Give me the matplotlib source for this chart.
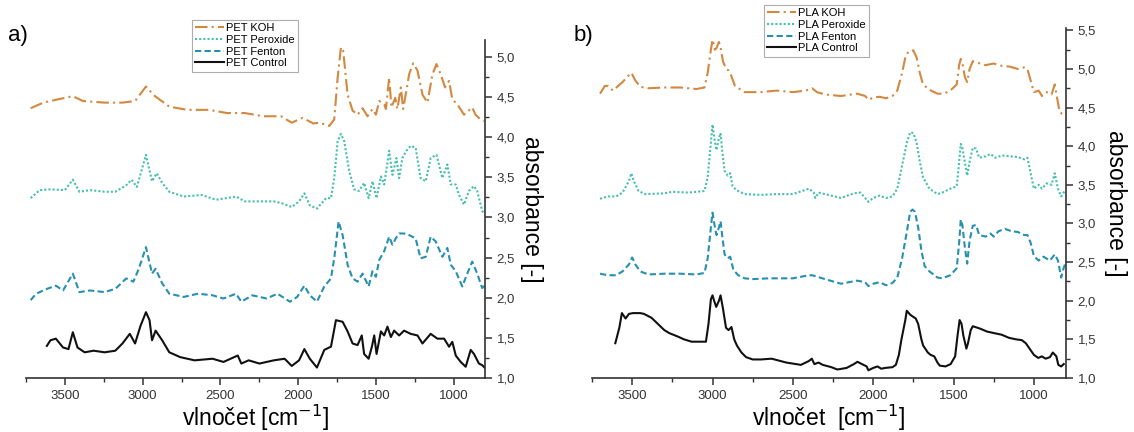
import matplotlib.pyplot as plt
from matplotlib.ticker import FuncFormatter, MultipleLocator

# PET (panel a)
pet_control_wn = [3616, 3593, 3558, 3512, 3477, 3449, 3419, 3373, 3315, 3245, 3176, 3130, 3083, 3049,
                  3014, 2979, 2956, 2940, 2917, 2875, 2829, 2759, 2667, 2551, 2481, 2389, 2366, 2319,
                  2250, 2157, 2088, 2042, 1995, 1961, 1926, 1880, 1833, 1790, 1758, 1715, 1683, 1651,
                  1619, 1592, 1577, 1548, 1527, 1512, 1497, 1469, 1448, 1427, 1405, 1384, 1352, 1320,
                  1278, 1234, 1202, 1149, 1106, 1063, 1031, 1010, 988, 956, 924, 892, 871, 839, 818, 803]
pet_control_abs = [1.40, 1.47, 1.49, 1.38, 1.36, 1.57, 1.38, 1.32, 1.34, 1.32, 1.34, 1.43, 1.55, 1.43,
                   1.65, 1.82, 1.72, 1.47, 1.59, 1.47, 1.32, 1.26, 1.22, 1.24, 1.20, 1.28, 1.18, 1.22,
                   1.18, 1.22, 1.24, 1.15, 1.22, 1.36, 1.24, 1.13, 1.35, 1.39, 1.72, 1.70, 1.58, 1.43,
                   1.41, 1.53, 1.30, 1.24, 1.39, 1.53, 1.30, 1.58, 1.53, 1.64, 1.51, 1.59, 1.53, 1.59,
                   1.55, 1.53, 1.43, 1.55, 1.49, 1.49, 1.39, 1.45, 1.28, 1.20, 1.14, 1.35, 1.30, 1.18, 1.16, 1.13]

pet_fenton_wn = [3720, 3685, 3616, 3558, 3512, 3449, 3407, 3338, 3245, 3176, 3106, 3060, 3025, 2979,
                 2940, 2917, 2875, 2829, 2736, 2644, 2551, 2481, 2400, 2366, 2296, 2204, 2134, 2053,
                 2007, 1961, 1926, 1880, 1833, 1790, 1769, 1741, 1715, 1683, 1651, 1619, 1587, 1548,
                 1523, 1501, 1480, 1448, 1416, 1395, 1373, 1352, 1320, 1288, 1246, 1214, 1181, 1149,
                 1117, 1074, 1042, 1020, 988, 946, 914, 882, 850, 818, 805]
pet_fenton_abs = [1.97, 2.05, 2.11, 2.15, 2.09, 2.30, 2.07, 2.09, 2.07, 2.11, 2.24, 2.20, 2.36, 2.63,
                  2.30, 2.36, 2.18, 2.05, 2.01, 2.05, 2.03, 1.99, 2.05, 1.95, 2.03, 1.99, 2.05, 1.95,
                  2.01, 2.15, 2.03, 1.95, 2.14, 2.24, 2.49, 2.95, 2.78, 2.41, 2.24, 2.20, 2.30, 2.14,
                  2.33, 2.26, 2.47, 2.58, 2.76, 2.66, 2.74, 2.80, 2.80, 2.78, 2.74, 2.49, 2.51, 2.76,
                  2.70, 2.51, 2.62, 2.41, 2.33, 2.14, 2.30, 2.45, 2.30, 2.12, 2.15]

pet_peroxide_wn = [3720, 3662, 3593, 3500, 3449, 3407, 3338, 3245, 3176, 3106, 3072, 3037, 2979, 2940,
                   2910, 2875, 2829, 2736, 2621, 2528, 2400, 2343, 2250, 2157, 2111, 2042, 1995, 1961,
                   1926, 1880, 1822, 1790, 1769, 1747, 1726, 1705, 1673, 1641, 1609, 1577, 1548, 1523,
                   1497, 1469, 1448, 1416, 1395, 1369, 1352, 1331, 1305, 1278, 1246, 1214, 1181, 1149,
                   1112, 1074, 1042, 1020, 988, 967, 935, 903, 871, 850, 818, 805]
pet_peroxide_abs = [3.24, 3.34, 3.35, 3.34, 3.47, 3.32, 3.34, 3.32, 3.32, 3.40, 3.47, 3.38, 3.78, 3.45,
                    3.55, 3.43, 3.32, 3.26, 3.28, 3.22, 3.26, 3.20, 3.20, 3.20, 3.18, 3.13, 3.20, 3.30,
                    3.15, 3.11, 3.24, 3.24, 3.49, 3.95, 4.04, 3.95, 3.58, 3.35, 3.33, 3.43, 3.24, 3.45,
                    3.24, 3.51, 3.41, 3.83, 3.53, 3.74, 3.49, 3.74, 3.83, 3.89, 3.87, 3.49, 3.45, 3.74,
                    3.78, 3.49, 3.66, 3.41, 3.41, 3.28, 3.16, 3.33, 3.39, 3.33, 3.08, 3.05]

pet_koh_wn = [3720, 3639, 3546, 3449, 3384, 3245, 3130, 3049, 2979, 2921, 2829, 2713, 2574, 2458,
              2343, 2227, 2111, 2042, 1972, 1903, 1865, 1801, 1769, 1747, 1726, 1711, 1683, 1651,
              1619, 1587, 1555, 1523, 1501, 1480, 1448, 1437, 1416, 1401, 1377, 1363, 1341, 1326,
              1305, 1288, 1262, 1234, 1202, 1170, 1138, 1112, 1084, 1057, 1031, 1010, 978, 935,
              882, 861, 829, 808]
pet_koh_abs = [4.36, 4.43, 4.47, 4.51, 4.45, 4.43, 4.43, 4.45, 4.63, 4.51, 4.38, 4.34, 4.34, 4.30,
               4.30, 4.26, 4.26, 4.18, 4.24, 4.17, 4.18, 4.14, 4.22, 4.74, 5.12, 5.07, 4.53, 4.33,
               4.28, 4.36, 4.26, 4.35, 4.28, 4.45, 4.41, 4.35, 4.74, 4.37, 4.49, 4.35, 4.62, 4.35,
               4.58, 4.78, 4.92, 4.83, 4.53, 4.43, 4.78, 4.91, 4.78, 4.62, 4.70, 4.47, 4.41, 4.28,
               4.37, 4.28, 4.22, 4.20]

# PLA (panel b)
pla_control_wn = [3605, 3580, 3564, 3541, 3520, 3495, 3450, 3427, 3380, 3340, 3300, 3268, 3220, 3177,
                  3130, 3086, 3041, 3025, 3010, 3000, 2990, 2977, 2960, 2950, 2935, 2916, 2900, 2882,
                  2865, 2848, 2820, 2791, 2750, 2700, 2632, 2541, 2450, 2400, 2382, 2366, 2340, 2314,
                  2260, 2223, 2166, 2120, 2098, 2070, 2041, 2030, 2000, 1973, 1950, 1927, 1880, 1859,
                  1840, 1825, 1800, 1791, 1770, 1757, 1735, 1720, 1700, 1689, 1660, 1643, 1620, 1600,
                  1586, 1550, 1518, 1490, 1475, 1462, 1450, 1439, 1420, 1410, 1393, 1380, 1336, 1290,
                  1245, 1200, 1155, 1110, 1075, 1050, 1030, 1000, 973, 950, 927, 900, 882, 860, 848,
                  830, 814]
pla_control_abs = [1.45, 1.65, 1.84, 1.77, 1.83, 1.84, 1.84, 1.83, 1.78, 1.70, 1.62, 1.58, 1.54, 1.50,
                   1.47, 1.47, 1.47, 1.70, 2.02, 2.07, 2.00, 1.92, 2.00, 2.07, 1.90, 1.65, 1.62, 1.66,
                   1.50, 1.42, 1.33, 1.27, 1.24, 1.24, 1.25, 1.20, 1.17, 1.22, 1.25, 1.18, 1.20, 1.17,
                   1.14, 1.11, 1.13, 1.18, 1.21, 1.18, 1.15, 1.10, 1.13, 1.15, 1.12, 1.13, 1.14, 1.17,
                   1.30, 1.49, 1.75, 1.87, 1.82, 1.80, 1.77, 1.70, 1.50, 1.42, 1.33, 1.30, 1.28, 1.20,
                   1.16, 1.15, 1.18, 1.28, 1.55, 1.75, 1.70, 1.55, 1.38, 1.45, 1.62, 1.67, 1.64, 1.60,
                   1.58, 1.56, 1.52, 1.50, 1.49, 1.45, 1.39, 1.30, 1.26, 1.28, 1.25, 1.27, 1.33, 1.28,
                   1.17, 1.15, 1.18]

pla_fenton_wn = [3700, 3650, 3600, 3560, 3520, 3500, 3480, 3450, 3400, 3300, 3200, 3100, 3050, 3030,
                 3010, 3000, 2985, 2975, 2960, 2950, 2940, 2925, 2905, 2890, 2870, 2840, 2800, 2750,
                 2650, 2500, 2400, 2380, 2300, 2200, 2100, 2050, 2030, 2000, 1960, 1920, 1880, 1850,
                 1820, 1790, 1770, 1755, 1740, 1720, 1700, 1680, 1650, 1600, 1570, 1520, 1480, 1465,
                 1455, 1445, 1430, 1415, 1400, 1380, 1360, 1340, 1300, 1270, 1250, 1220, 1180, 1140,
                 1100, 1060, 1040, 1020, 1000, 970, 940, 900, 870, 850, 830, 815, 805]
pla_fenton_abs = [2.35, 2.33, 2.33, 2.38, 2.47, 2.56, 2.47, 2.38, 2.34, 2.35, 2.35, 2.34, 2.36, 2.55,
                  2.95, 3.14, 2.95, 2.85, 2.95, 3.03, 2.85, 2.60, 2.55, 2.57, 2.40, 2.33, 2.29, 2.28,
                  2.29, 2.29, 2.33, 2.33, 2.28, 2.22, 2.26, 2.24, 2.19, 2.22, 2.24, 2.20, 2.23, 2.30,
                  2.55, 2.90, 3.15, 3.18, 3.15, 2.95, 2.65, 2.45, 2.38, 2.30, 2.29, 2.33, 2.42, 2.75,
                  3.05, 2.98, 2.70, 2.48, 2.78, 2.97, 2.98, 2.85, 2.83, 2.87, 2.83, 2.90, 2.93, 2.90,
                  2.89, 2.85, 2.85, 2.75, 2.58, 2.52, 2.57, 2.52, 2.60, 2.52, 2.30, 2.42, 2.48]

pla_peroxide_wn = [3700, 3650, 3600, 3560, 3520, 3505, 3490, 3460, 3420, 3300, 3250, 3150, 3050, 3030,
                   3010, 3000, 2985, 2975, 2960, 2950, 2940, 2925, 2905, 2890, 2875, 2850, 2800, 2700,
                   2600, 2500, 2400, 2370, 2360, 2340, 2280, 2200, 2120, 2080, 2050, 2030, 2000, 1960,
                   1920, 1880, 1850, 1820, 1790, 1770, 1750, 1730, 1710, 1690, 1650, 1600, 1570, 1520,
                   1480, 1465, 1455, 1445, 1430, 1415, 1400, 1380, 1360, 1340, 1300, 1270, 1240, 1200,
                   1150, 1100, 1060, 1040, 1020, 1000, 970, 950, 920, 890, 870, 850, 830, 815, 805]
pla_peroxide_abs = [3.32, 3.35, 3.35, 3.40, 3.55, 3.65, 3.55, 3.42, 3.38, 3.39, 3.41, 3.40, 3.42, 3.60,
                    4.05, 4.28, 4.05, 3.95, 4.10, 4.17, 3.95, 3.68, 3.62, 3.65, 3.48, 3.43, 3.38, 3.37,
                    3.38, 3.38, 3.45, 3.40, 3.33, 3.40, 3.37, 3.33, 3.39, 3.40, 3.33, 3.28, 3.33, 3.36,
                    3.33, 3.35, 3.45, 3.75, 4.05, 4.18, 4.17, 4.05, 3.80, 3.60, 3.45, 3.38, 3.40, 3.45,
                    3.48, 3.80, 4.03, 3.98, 3.80, 3.62, 3.80, 3.98, 3.97, 3.85, 3.87, 3.90, 3.85, 3.88,
                    3.87, 3.86, 3.83, 3.85, 3.65, 3.45, 3.50, 3.45, 3.52, 3.50, 3.65, 3.45, 3.35, 3.40, 3.42]

pla_koh_wn = [3700, 3670, 3650, 3620, 3560, 3520, 3505, 3480, 3450, 3400, 3300, 3200, 3100, 3050,
              3030, 3010, 3000, 2985, 2975, 2960, 2950, 2935, 2915, 2900, 2885, 2860, 2800, 2700,
              2600, 2500, 2420, 2380, 2350, 2300, 2200, 2100, 2050, 2030, 2000, 1960, 1920, 1880,
              1850, 1820, 1800, 1780, 1750, 1730, 1710, 1690, 1650, 1600, 1560, 1520, 1480, 1465,
              1455, 1445, 1430, 1415, 1400, 1380, 1350, 1300, 1250, 1200, 1150, 1100, 1060, 1040,
              1020, 1000, 970, 950, 920, 890, 870, 855, 840, 825, 805]
pla_koh_abs = [4.68, 4.78, 4.78, 4.72, 4.83, 4.92, 4.95, 4.85, 4.77, 4.75, 4.76, 4.76, 4.74, 4.76,
               4.95, 5.25, 5.38, 5.25, 5.27, 5.35, 5.28, 5.10, 5.00, 4.98, 4.92, 4.78, 4.70, 4.70,
               4.72, 4.70, 4.72, 4.75, 4.70, 4.67, 4.65, 4.68, 4.65, 4.60, 4.63, 4.64, 4.62, 4.65,
               4.72, 4.95, 5.15, 5.23, 5.24, 5.15, 4.95, 4.80, 4.73, 4.68, 4.68, 4.72, 4.80, 5.05,
               5.13, 5.08, 4.90, 4.83, 5.00, 5.10, 5.08, 5.05, 5.07, 5.04, 5.03, 5.00, 5.02, 5.00,
               4.85, 4.70, 4.72, 4.65, 4.70, 4.67, 4.80, 4.62, 4.45, 4.42, 4.42]

koh_color = "#d3883f"
peroxide_color = "#45bfae"
fenton_color = "#2690b0"
control_color = "#111111"

plt.rcParams.update({"font.family": "Liberation Sans", "font.size": 9.5})

fig = plt.figure(figsize=(11.34, 4.32), dpi=100)
W, H = 1134, 432


def comma(v, pos):
    return f"{v:.1f}".replace(".", ",")


def style_axis(ax, ylim, label_pad, xlabel):
    ax.set_xlim(3750, 800)
    ax.set_ylim(*ylim)
    ax.spines["top"].set_visible(False)
    ax.spines["left"].set_visible(False)
    for s in ("bottom", "right"):
        ax.spines[s].set_color("#333333")
        ax.spines[s].set_linewidth(1.2)
    ax.yaxis.tick_right()
    ax.yaxis.set_label_position("right")
    ax.xaxis.set_major_locator(MultipleLocator(500))
    ax.xaxis.set_minor_locator(MultipleLocator(250))
    ax.yaxis.set_major_locator(MultipleLocator(0.5))
    ax.yaxis.set_minor_locator(MultipleLocator(0.25))
    ax.yaxis.set_major_formatter(FuncFormatter(comma))
    ax.tick_params(which="major", length=5, width=1.1, color="#333333", labelcolor="#333333")
    ax.tick_params(which="minor", length=3, width=1.0, color="#333333")
    ax.set_xlabel(xlabel, fontsize=16.5, labelpad=1)
    ax.set_ylabel("absorbance [-]", fontsize=16.5, rotation=270, labelpad=label_pad)


panels = [
    ("a)", "PET", [26, 485, 40], (1.0, 5.21), 20, "vlnočet [cm$^{-1}$]",
     [(pet_koh_wn, pet_koh_abs), (pet_peroxide_wn, pet_peroxide_abs),
      (pet_fenton_wn, pet_fenton_abs), (pet_control_wn, pet_control_abs)],
     (192, 20)),
    ("b)", "PLA", [592, 1066, 28], (1.0, 5.53), 22, "vlnočet  [cm$^{-1}$]",
     [(pla_koh_wn, pla_koh_abs), (pla_peroxide_wn, pla_peroxide_abs),
      (pla_fenton_wn, pla_fenton_abs), (pla_control_wn, pla_control_abs)],
     (764, 5)),
]

styles = [
    dict(color=koh_color, linestyle=(0, (6, 2, 1, 2)), linewidth=1.5),
    dict(color=peroxide_color, linestyle=(0, (1, 1)), linewidth=1.5),
    dict(color=fenton_color, linestyle=(0, (3, 1.6)), linewidth=1.5),
    dict(color=control_color, linestyle="-", linewidth=1.5),
]
names = ["KOH", "Peroxide", "Fenton", "Control"]

for tag, polymer, (x0, x1, top), ylim, pad, xlabel, series, (lx, ly) in panels:
    ax = fig.add_axes([x0 / W, (H - 378) / H, (x1 - x0) / W, (378 - top) / H])
    for (wn, ab), st, nm in zip(series, styles, names):
        ax.plot(wn, ab, label=f"{polymer} {nm}", **st)
    style_axis(ax, ylim, pad, xlabel)
    leg = ax.legend(loc="upper left", bbox_to_anchor=(lx / W, 1 - ly / H),
                    bbox_transform=fig.transFigure, fontsize=8, frameon=True,
                    fancybox=False, edgecolor="#999999", borderpad=0.3,
                    labelspacing=0.15, handlelength=2.6, handletextpad=0.2,
                    borderaxespad=0)
    leg.get_frame().set_linewidth(0.8)
    fig.text((x0 - 18) / W, 1 - 36 / H, tag, fontsize=16, va="center", ha="left")

fig.savefig("out.png", dpi=100)
